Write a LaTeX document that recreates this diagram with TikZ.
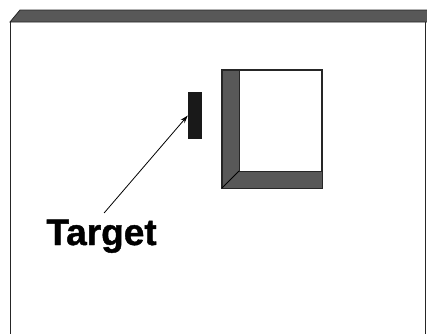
\documentclass[tikz,border=0pt]{standalone}
\usepackage{fontspec}
\setmainfont{Liberation Sans}
\newfontfamily\heavyfont[FakeBold=1.2]{Liberation Sans Bold}
\usetikzlibrary{arrows.meta}
\definecolor{wallgray}{HTML}{585858}

\begin{document}
\begin{tikzpicture}[x=1pt, y=-1pt,
  wall/.style={draw=black!85, line width=1.3pt},
  shade/.style={fill=wallgray, draw=black!85, line width=0.8pt}]
  \useasboundingbox (0,0) rectangle (427,333);

  % top edge of the room
  \draw[shade] (10,22) -- (20,10) -- (428,10) -- (428,22) -- cycle;

  % side walls
  \draw[wall] (10.5,22) -- (10.5,334);
  \draw[wall] (425.5,22) -- (425.5,334);

  % box with shaded inner sides
  \draw[wall, fill=white] (222,70) rectangle (322,188);
  \draw[shade] (222,70) -- (239,70) -- (239,171) -- (322,171) -- (322,188) -- (222,188) -- cycle;
  \draw[line width=0.8pt] (239,171) -- (222,188);

  % target and its label
  \node[fill=black!90, minimum width=14pt, minimum height=47pt, inner sep=0pt] (target) at (195,115.5) {};
  \node[anchor=base, font=\heavyfont\fontsize{37}{37}\selectfont] (label) at (101.5,245) {Target};
  \draw[line width=0.8pt, -{Stealth[length=8pt, width=5pt]}, shorten <=4pt] (label.north) -- (target.west);
\end{tikzpicture}
\end{document}
